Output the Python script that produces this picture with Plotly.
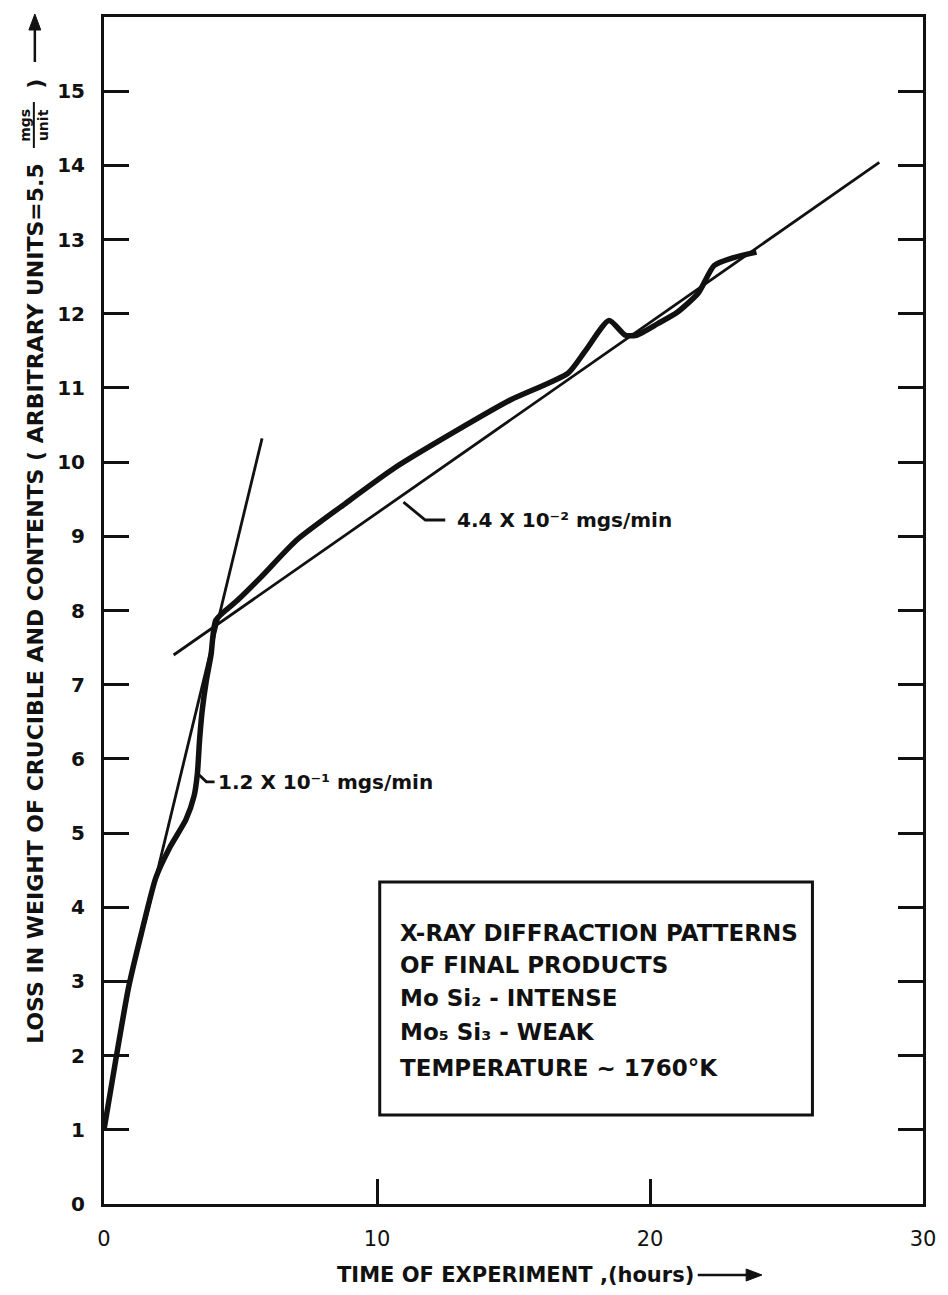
import plotly.graph_objects as go

# Measured curve (loss in weight vs time)
time_h = [0, 0.43, 0.9, 1.37, 1.9, 2.4, 3.0, 3.3, 3.42, 3.5, 3.6, 3.75, 3.92, 4.1,
          4.9, 5.75, 7.06, 8.87, 10.68, 12.8, 14.9, 17.0, 17.65, 18.5, 19.1, 19.5,
          20.3, 21.0, 21.77, 22.35, 23.1, 23.9]
loss = [1.0, 1.94, 2.92, 3.65, 4.4, 4.8, 5.18, 5.5, 5.8, 6.25, 6.66, 7.06, 7.4, 7.87,
        8.14, 8.45, 8.95, 9.45, 9.93, 10.4, 10.84, 11.2, 11.51, 11.91, 11.71, 11.71,
        11.87, 12.02, 12.28, 12.65, 12.76, 12.83]

# Tangent lines
fast_x = [1.5, 5.79]
fast_y = [3.79, 10.32]
slow_x = [2.55, 28.4]
slow_y = [7.4, 14.04]

# Leader lines for rate labels
lead1_x = [3.44, 3.75, 4.05]
lead1_y = [5.8, 5.69, 5.69]
lead2_x = [10.97, 11.77, 12.5]
lead2_y = [9.46, 9.22, 9.22]

x_ticks = [0, 10, 20, 30]
y_ticks = list(range(0, 16))

box_lines = ["X-RAY DIFFRACTION PATTERNS", "OF FINAL PRODUCTS",
             "Mo Si\u2082 - INTENSE", "Mo\u2085 Si\u2083 - WEAK",
             "TEMPERATURE ~ 1760°K"]
box_line_y = [3.65, 3.22, 2.78, 2.32, 1.83]

FONT = "DejaVu Sans"
INK = "#111111"

W, H = 948, 1295
ML, MR, MT, MB = 104, 15, 17, 91
PW, PH = W - ML - MR, H - MT - MB


def px(xp, yp):
    """pixel position -> paper coordinates (for decorations only)"""
    return (xp - ML) / PW, (H - MB - yp) / PH


fig = go.Figure()
fig.add_trace(go.Scatter(x=time_h, y=loss, mode="lines",
                         line=dict(color=INK, width=5.5, shape="spline", smoothing=0.6),
                         showlegend=False, hoverinfo="skip"))
fig.add_trace(go.Scatter(x=fast_x, y=fast_y, mode="lines",
                         line=dict(color=INK, width=2.8), showlegend=False))
fig.add_trace(go.Scatter(x=slow_x, y=slow_y, mode="lines",
                         line=dict(color=INK, width=2.8), showlegend=False))
fig.add_trace(go.Scatter(x=lead1_x, y=lead1_y, mode="lines",
                         line=dict(color=INK, width=2.8), showlegend=False))
fig.add_trace(go.Scatter(x=lead2_x, y=lead2_y, mode="lines",
                         line=dict(color=INK, width=2.8), showlegend=False))

ann = []
ann.append(dict(x=4.12, y=5.69, xref="x", yref="y", xanchor="left", yanchor="middle",
                text="1.2 X 10\u207b\u00b9 mgs/min", showarrow=False,
                font=dict(family=FONT, size=20, color=INK, weight="bold")))
ann.append(dict(x=12.85, y=9.22, xref="x", yref="y", xanchor="left", yanchor="middle",
                text="4.4 X 10\u207b\u00b2 mgs/min", showarrow=False,
                font=dict(family=FONT, size=20, color=INK, weight="bold")))
for t, yy in zip(box_lines, box_line_y):
    ann.append(dict(x=10.76, y=yy, xref="x", yref="y", xanchor="left", yanchor="middle",
                    text=t, showarrow=False,
                    font=dict(family=FONT, size=23, color=INK, weight="bold")))

# y-axis title (rotated): main text, fraction mgs/unit, closing paren
tx, ty = px(34, 603)
ann.append(dict(x=tx, y=ty, xref="paper", yref="paper", xanchor="center",
                yanchor="middle", textangle=-90, showarrow=False,
                text="LOSS IN WEIGHT OF CRUCIBLE AND CONTENTS ( ARBITRARY UNITS=5.5",
                font=dict(family=FONT, size=22, color=INK, weight="bold")))
fx, fy = px(33, 125)
ann.append(dict(x=fx, y=fy, xref="paper", yref="paper", xanchor="center",
                yanchor="middle", textangle=-90, showarrow=False,
                text="mgs<br>unit",
                font=dict(family=FONT, size=14, color=INK, weight="bold")))
cx, cy = px(34, 84)
ann.append(dict(x=cx, y=cy, xref="paper", yref="paper", xanchor="center",
                yanchor="middle", textangle=-90, showarrow=False, text=")",
                font=dict(family=FONT, size=22, color=INK, weight="bold")))

# x-axis title
xx, xy = px(338, 1275)
ann.append(dict(x=xx, y=xy, xref="paper", yref="paper", xanchor="left",
                yanchor="middle", showarrow=False, text="TIME OF EXPERIMENT ,(hours)",
                font=dict(family=FONT, size=21, color=INK, weight="bold")))

shapes = [dict(type="rect", xref="x", yref="y", x0=10.1, x1=25.95, y0=1.2, y1=4.34,
               line=dict(color=INK, width=3))]
# fraction bar
b0 = px(33, 102)
b1 = px(33, 148)
shapes.append(dict(type="line", xref="paper", yref="paper", x0=b0[0], y0=b0[1],
                   x1=b1[0], y1=b1[1], line=dict(color=INK, width=2)))
# y arrow
a0 = px(34, 62)
a1 = px(34, 26)
shapes.append(dict(type="line", xref="paper", yref="paper", x0=a0[0], y0=a0[1],
                   x1=a1[0], y1=a1[1], line=dict(color=INK, width=2.5)))
h0, h1, h2 = px(34, 14), px(28, 30), px(40, 30)
shapes.append(dict(type="path", xref="paper", yref="paper",
                   path=f"M {h0[0]} {h0[1]} L {h1[0]} {h1[1]} L {h2[0]} {h2[1]} Z",
                   fillcolor=INK, line=dict(color=INK, width=1)))
# x arrow
a0 = px(705, 1275)
a1 = px(758, 1275)
shapes.append(dict(type="line", xref="paper", yref="paper", x0=a0[0], y0=a0[1],
                   x1=a1[0], y1=a1[1], line=dict(color=INK, width=2.5)))
h0, h1, h2 = px(770, 1275), px(754, 1269), px(754, 1281)
shapes.append(dict(type="path", xref="paper", yref="paper",
                   path=f"M {h0[0]} {h0[1]} L {h1[0]} {h1[1]} L {h2[0]} {h2[1]} Z",
                   fillcolor=INK, line=dict(color=INK, width=1)))

fig.update_layout(
    width=W, height=H,
    margin=dict(l=ML, r=MR, t=MT, b=MB),
    paper_bgcolor="white", plot_bgcolor="white",
    annotations=ann,
    shapes=shapes,
)
fig.update_xaxes(range=[0, 30], tickvals=x_ticks, ticktext=[str(v) for v in x_ticks],
                 ticks="inside", ticklen=25, tickwidth=2.5, tickcolor=INK,
                 showline=True, linewidth=3, linecolor=INK, mirror=True,
                 showgrid=False, zeroline=False, ticklabelstandoff=14,
                 tickfont=dict(family=FONT, size=21, color=INK))
fig.update_yaxes(range=[0, 16], tickvals=y_ticks, ticktext=[str(v) for v in y_ticks],
                 ticks="inside", ticklen=25, tickwidth=2.5, tickcolor=INK,
                 showline=True, linewidth=3, linecolor=INK, mirror="ticks",
                 showgrid=False, zeroline=False, ticklabelstandoff=12,
                 tickfont=dict(family=FONT, size=20, color=INK, weight="bold"))

fig.write_html("out.html", config={"displayModeBar": False},
               post_script="document.body.style.margin='0px';document.body.style.overflow='hidden';")
